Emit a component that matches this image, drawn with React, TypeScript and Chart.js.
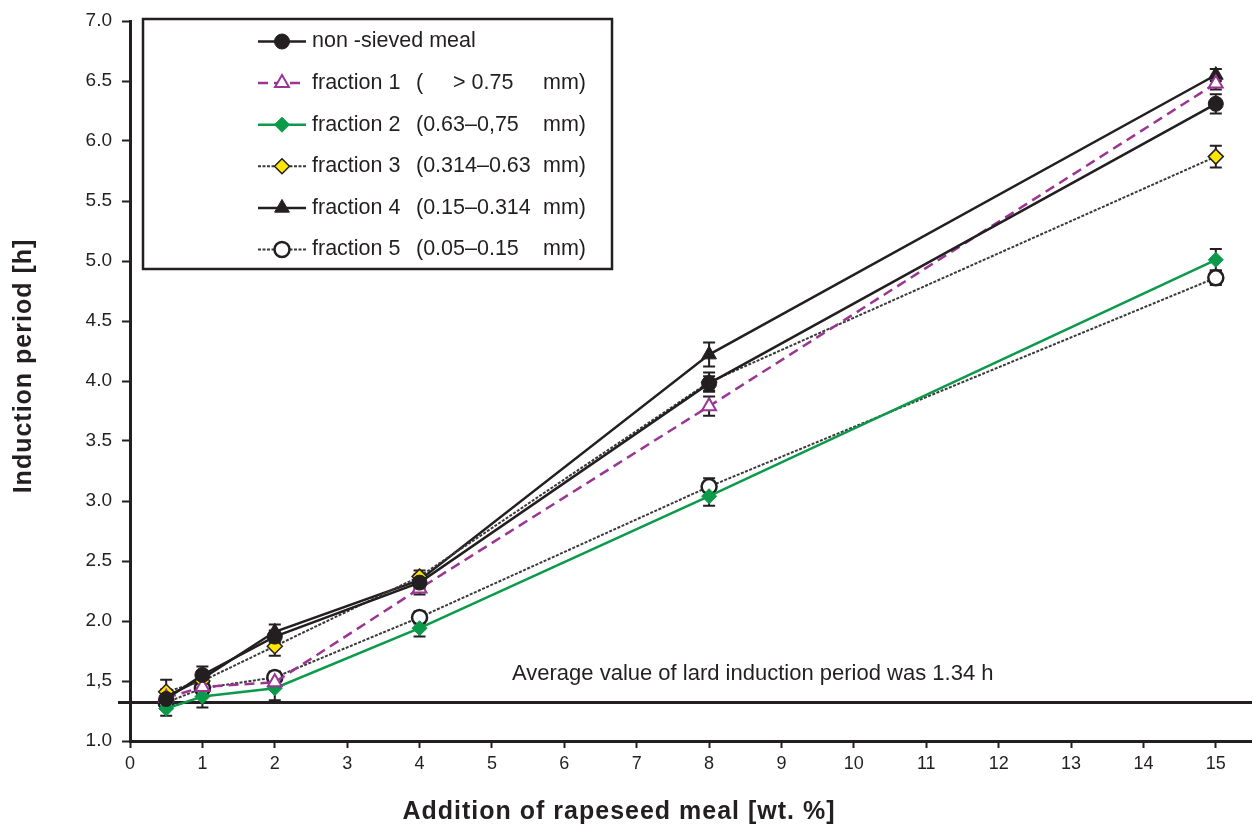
import React, { useEffect, useRef } from 'react';
import { Chart, registerables } from 'chart.js';
import { drawPoint } from 'chart.js/helpers';

Chart.register(...registerables);

// ---- data ----
const xValues = [0.5, 1, 2, 4, 8, 15];
const nonSieved = [1.35, 1.55, 1.87, 2.32, 3.98, 6.31];
const fraction1 = [1.36, 1.45, 1.49, 2.27, 3.79, 6.48];
const fraction2 = [1.27, 1.37, 1.44, 1.94, 3.04, 5.01];
const fraction3 = [1.41, 1.5, 1.79, 2.37, 3.99, 5.87];
const fraction4 = [1.37, 1.52, 1.91, 2.34, 4.22, 6.55];
const fraction5 = [1.32, 1.44, 1.53, 2.03, 3.12, 4.86];

const errNonSieved = [0.05, 0.07, 0.05, 0.05, 0.06, 0.08];
const errFraction1 = [0.05, 0.05, 0.05, 0.05, 0.08, 0.05];
const errFraction2 = [0.06, 0.09, 0.1, 0.07, 0.08, 0.09];
const errFraction3 = [0.1, 0.06, 0.08, 0.05, 0.08, 0.09];
const errFraction4 = [0.06, 0.06, 0.06, 0.05, 0.1, 0.05];
const errFraction5 = [0.05, 0.05, 0.05, 0.05, 0.07, 0.06];

const xTicks = [0, 1, 2, 3, 4, 5, 6, 7, 8, 9, 10, 11, 12, 13, 14, 15];
const yTicks = [1.0, 1.5, 2.0, 2.5, 3.0, 3.5, 4.0, 4.5, 5.0, 5.5, 6.0, 6.5, 7.0];
const yTickLabels = ['1.0', '1,5', '2.0', '2.5', '3.0', '3.5', '4.0', '4.5', '5.0', '5.5', '6.0', '6.5', '7.0'];

const seriesNames = ['non -sieved meal', 'fraction 1', 'fraction 2', 'fraction 3', 'fraction 4', 'fraction 5'];
const rangeOpen = ['', '(', '(0.63–0,75', '(0.314–0.63', '(0.15–0.314', '(0.05–0.15'];
const rangeMid = ['', '> 0.75', '', '', '', ''];
const rangeUnit = ['', 'mm)', 'mm)', 'mm)', 'mm)', 'mm)'];

const lardLevel = 1.32;
const lardText = 'Average value of lard induction period was 1.34 h';
const xTitle = 'Addition of rapeseed meal [wt. %]';
const yTitle = 'Induction period [h]';

const INK = '#231f20';
const PURPLE = '#9b3593';
const GREEN = '#0a9a4a';
const YELLOW = '#ffe600';
const DOT = '#3a3a3a';
const FONT = '"Liberation Sans", Arial, sans-serif';

const toPts = (ys: number[]) => ys.map((y, i) => ({ x: xValues[i], y }));

export default function App() {
  const ref = useRef<HTMLCanvasElement | null>(null);

  useEffect(() => {
    const canvas = ref.current;
    if (!canvas) return;

    const errors = [errNonSieved, errFraction1, errFraction2, errFraction3, errFraction4, errFraction5];

    const customPlugin = {
      id: 'custom',
      beforeDatasetsDraw(chart: any) {
        const ctx = chart.ctx;
        const xs = chart.scales.x;
        const ys = chart.scales.y;
        ctx.save();
        // lard reference line
        ctx.strokeStyle = INK;
        ctx.lineWidth = 3;
        ctx.beginPath();
        const ly = ys.getPixelForValue(lardLevel);
        ctx.moveTo(118, ly);
        ctx.lineTo(chart.width, ly);
        ctx.stroke();
        // error bars
        ctx.lineWidth = 2;
        ctx.strokeStyle = INK;
        chart.data.datasets.forEach((ds: any, di: number) => {
          ds.data.forEach((p: any, i: number) => {
            const e = errors[di][i];
            const px = xs.getPixelForValue(p.x);
            const y1 = ys.getPixelForValue(p.y - e);
            const y2 = ys.getPixelForValue(p.y + e);
            ctx.beginPath();
            ctx.moveTo(px, y1);
            ctx.lineTo(px, y2);
            ctx.moveTo(px - 6, y1);
            ctx.lineTo(px + 6, y1);
            ctx.moveTo(px - 6, y2);
            ctx.lineTo(px + 6, y2);
            ctx.stroke();
          });
        });
        ctx.restore();
      },
      afterDraw(chart: any) {
        const ctx = chart.ctx;
        ctx.save();
        // annotation text
        ctx.fillStyle = INK;
        ctx.font = `22px ${FONT}`;
        ctx.textAlign = 'left';
        ctx.textBaseline = 'middle';
        ctx.fillText(lardText, 512, 674);

        // axis titles
        ctx.font = `bold 25px ${FONT}`;
        ctx.textAlign = 'center';
        (ctx as any).letterSpacing = '1px';
        ctx.fillText(xTitle, 619, 812);
        ctx.save();
        ctx.translate(24, 366);
        ctx.rotate(-Math.PI / 2);
        ctx.fillText(yTitle, 0, 0);
        ctx.restore();
        (ctx as any).letterSpacing = '0px';

        // legend box
        ctx.fillStyle = '#ffffff';
        ctx.fillRect(143, 19, 469, 250);
        ctx.strokeStyle = INK;
        ctx.lineWidth = 2.5;
        ctx.strokeRect(143, 19, 469, 250);

        chart.data.datasets.forEach((ds: any, i: number) => {
          const ry = 41.5 + i * 41.6;
          ctx.save();
          ctx.strokeStyle = ds.borderColor;
          ctx.lineWidth = ds.borderWidth;
          ctx.setLineDash(ds.borderDash || []);
          ctx.beginPath();
          ctx.moveTo(258, ry);
          ctx.lineTo(306, ry);
          ctx.stroke();
          ctx.setLineDash([]);
          ctx.fillStyle = ds.pointBackgroundColor;
          ctx.strokeStyle = ds.pointBorderColor;
          ctx.lineWidth = ds.pointBorderWidth;
          drawPoint(ctx, { pointStyle: ds.pointStyle, radius: ds.pointRadius, rotation: 0, borderWidth: ds.pointBorderWidth }, 282, ry);
          ctx.restore();

          ctx.fillStyle = INK;
          ctx.font = `21.5px ${FONT}`;
          ctx.textBaseline = 'middle';
          ctx.textAlign = 'left';
          ctx.fillText(seriesNames[i], 312, ry);
          if (rangeOpen[i]) ctx.fillText(rangeOpen[i], 416, ry);
          if (rangeMid[i]) ctx.fillText(rangeMid[i], 453, ry);
          if (rangeUnit[i]) {
            ctx.textAlign = 'right';
            ctx.fillText(rangeUnit[i], 586, ry);
          }
        });
        ctx.restore();
      },
    };

    const chart = new Chart(canvas, {
      type: 'line',
      data: {
        datasets: [
          {
            label: seriesNames[0],
            data: toPts(nonSieved),
            borderColor: INK,
            borderWidth: 2.5,
            pointStyle: 'circle',
            pointRadius: 7.5,
            pointBackgroundColor: INK,
            pointBorderColor: INK,
            pointBorderWidth: 1,
          },
          {
            label: seriesNames[1],
            data: toPts(fraction1),
            borderColor: PURPLE,
            borderWidth: 2.5,
            borderDash: [10, 6],
            pointStyle: 'triangle',
            pointRadius: 8,
            pointBackgroundColor: '#ffffff',
            pointBorderColor: PURPLE,
            pointBorderWidth: 2,
          },
          {
            label: seriesNames[2],
            data: toPts(fraction2),
            borderColor: GREEN,
            borderWidth: 2.5,
            pointStyle: 'rectRot',
            pointRadius: 7.5,
            pointBackgroundColor: GREEN,
            pointBorderColor: GREEN,
            pointBorderWidth: 1,
          },
          {
            label: seriesNames[3],
            data: toPts(fraction3),
            borderColor: DOT,
            borderWidth: 2,
            borderDash: [3, 1.5],
            pointStyle: 'rectRot',
            pointRadius: 7.5,
            pointBackgroundColor: YELLOW,
            pointBorderColor: INK,
            pointBorderWidth: 1.5,
          },
          {
            label: seriesNames[4],
            data: toPts(fraction4),
            borderColor: INK,
            borderWidth: 2.5,
            pointStyle: 'triangle',
            pointRadius: 8.5,
            pointBackgroundColor: INK,
            pointBorderColor: INK,
            pointBorderWidth: 1,
          },
          {
            label: seriesNames[5],
            data: toPts(fraction5),
            borderColor: DOT,
            borderWidth: 2,
            borderDash: [3, 1.5],
            pointStyle: 'circle',
            pointRadius: 7.5,
            pointBackgroundColor: '#ffffff',
            pointBorderColor: INK,
            pointBorderWidth: 2.5,
          },
        ],
      },
      options: {
        responsive: false,
        animation: false,
        events: [],
        layout: { autoPadding: false, padding: { left: 0, top: 21, right: 0, bottom: 0 } },
        plugins: {
          legend: { display: false },
          tooltip: { enabled: false },
        },
        scales: {
          x: {
            type: 'linear',
            min: 0,
            max: 15.5,
            afterBuildTicks: (s: any) => {
              s.ticks = xTicks.map((v) => ({ value: v }));
            },
            afterFit: (s: any) => {
              s.height = 86;
              s.paddingLeft = 0;
              s.paddingRight = 0;
            },
            ticks: {
              autoSkip: false,
              maxRotation: 0,
              padding: 5,
              color: INK,
              font: { family: FONT, size: 18 },
              callback: (v: any) => String(v),
            },
            grid: {
              drawOnChartArea: false,
              drawTicks: true,
              tickLength: 7,
              tickWidth: 2,
              tickColor: INK,
            },
            border: { display: true, color: INK, width: 3 },
          },
          y: {
            type: 'linear',
            min: 1,
            max: 7,
            afterBuildTicks: (s: any) => {
              s.ticks = yTicks.map((v) => ({ value: v }));
            },
            afterFit: (s: any) => {
              s.width = 130;
              s.paddingTop = 0;
              s.paddingBottom = 0;
            },
            ticks: {
              autoSkip: false,
              padding: 10,
              color: INK,
              font: { family: FONT, size: 19 },
              callback: (v: any) => {
                const idx = yTicks.findIndex((t) => Math.abs(t - v) < 1e-6);
                return idx >= 0 ? yTickLabels[idx] : '';
              },
            },
            grid: {
              drawOnChartArea: false,
              drawTicks: true,
              tickLength: 8,
              tickWidth: 2,
              tickColor: INK,
            },
            border: { display: true, color: INK, width: 3 },
          },
        },
      },
      plugins: [customPlugin],
    } as any);

    return () => chart.destroy();
  }, []);

  return (
    <div style={{ position: 'absolute', left: 0, top: 0, width: 1252, height: 827, background: '#fff' }}>
      <canvas ref={ref} width={1252} height={827} style={{ display: 'block' }} />
    </div>
  );
}
